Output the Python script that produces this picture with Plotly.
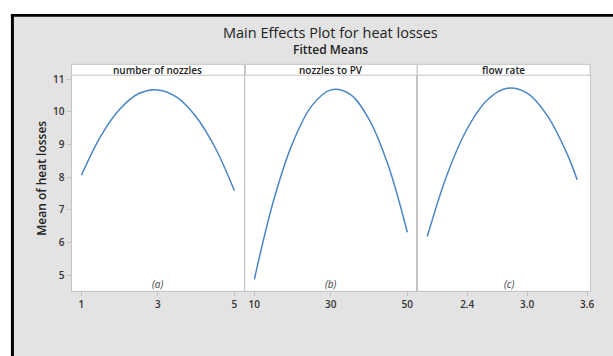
import plotly.graph_objects as go

# ---- data ----
nozzles_x = [1, 1.5, 2, 2.5, 3, 3.5, 4, 4.5, 5]
nozzles_y = [8.06, 9.25, 10.08, 10.56, 10.67, 10.44, 9.84, 8.89, 7.58]

pv_x = [10, 15, 20, 25, 30, 35, 40, 45, 50]
pv_y = [4.87, 7.27, 9.04, 10.18, 10.67, 10.54, 9.77, 8.36, 6.31]

flow_x = [2.0, 2.2, 2.4, 2.6, 2.8, 3.0, 3.2, 3.4, 3.5]
flow_y = [6.18, 8.09, 9.48, 10.36, 10.72, 10.57, 9.89, 8.71, 7.92]

panel_titles = ["number of nozzles", "nozzles to PV", "flow rate"]
panel_tags = ["(a)", "(b)", "(c)"]
tag_x = [3, 30, 2.82]
x_ticks = [[1, 3, 5], [10, 30, 50], [2.4, 3.0, 3.6]]
x_ticktext = [["1", "3", "5"], ["10", "30", "50"], ["2.4", "3.0", "3.6"]]
x_ranges = [[0.74, 5.26], [7.66, 52.6], [1.90, 3.63]]
y_ticks = [5, 6, 7, 8, 9, 10, 11]
y_range = [4.52, 11.12]

W, H = 613, 356


def px(x):
    return x / W


def py(y):
    return 1 - y / H


panel_px = [(72, 246), (247, 420), (420, 594)]
plot_top, plot_bot, strip_top = 72, 290, 61

fig = go.Figure()
series = [(nozzles_x, nozzles_y), (pv_x, pv_y), (flow_x, flow_y)]
line_col = "#4a86c8"
grid_col = "#c4c4c4"
bg_col = "#e3e3e3"
font_fam = "Open Sans, Noto Sans, sans-serif"

for i, (xs, ys) in enumerate(series):
    xa = "x" if i == 0 else f"x{i+1}"
    ya = "y" if i == 0 else f"y{i+1}"
    fig.add_trace(go.Scatter(x=xs, y=ys, mode="lines", xaxis=xa, yaxis=ya,
                             line=dict(color=line_col, width=1.5, shape="spline"),
                             showlegend=False, hoverinfo="skip"))

layout = dict(
    width=W, height=H,
    margin=dict(l=0, r=0, t=0, b=0),
    paper_bgcolor=bg_col,
    plot_bgcolor="white",
    font=dict(family=font_fam, color="#222"),
)

for i in range(3):
    sfx = "" if i == 0 else str(i + 1)
    x0, x1 = panel_px[i]
    layout[f"xaxis{sfx}"] = dict(
        domain=[px(x0), px(x1)], range=x_ranges[i],
        anchor=f"y{sfx}", tickmode="array", tickvals=x_ticks[i], ticktext=x_ticktext[i],
        showgrid=False, zeroline=False, showline=True, mirror=True,
        linecolor=grid_col, linewidth=1, ticks="outside", ticklen=4,
        tickcolor=grid_col, tickfont=dict(size=10, color="#333", weight=600),
    )
    layout[f"yaxis{sfx}"] = dict(
        domain=[py(plot_bot), py(plot_top)], range=y_range,
        anchor=f"x{sfx}", tickmode="array", tickvals=y_ticks,
        showticklabels=(i == 0), ticks="outside" if i == 0 else "", ticklen=4,
        tickcolor=grid_col,
        showgrid=False, zeroline=False, showline=True, mirror=True,
        linecolor=grid_col, linewidth=1, tickfont=dict(size=10, color="#333", weight=600),
    )

shapes = [
    # white page margin (top and left)
    dict(type="rect", xref="paper", yref="paper", x0=px(-20), x1=px(640), y0=py(10), y1=py(-20),
         fillcolor="white", line=dict(width=0)),
    dict(type="rect", xref="paper", yref="paper", x0=px(-20), x1=px(11), y0=py(400), y1=py(-20),
         fillcolor="white", line=dict(width=0)),
    # black frame lines
    dict(type="rect", xref="paper", yref="paper", x0=px(11), x1=px(640), y0=py(13), y1=py(10),
         fillcolor="black", line=dict(width=0)),
    dict(type="rect", xref="paper", yref="paper", x0=px(11), x1=px(14), y0=py(400), y1=py(10),
         fillcolor="black", line=dict(width=0)),
]
annotations = []
for i in range(3):
    x0, x1 = panel_px[i]
    shapes.append(dict(type="rect", xref="paper", yref="paper",
                       x0=px(x0), x1=px(x1), y0=py(plot_top), y1=py(strip_top),
                       fillcolor="white", line=dict(color=grid_col, width=1)))
    annotations.append(dict(text=panel_titles[i], xref="paper", yref="paper",
                            x=px((x0 + x1) / 2), y=py((strip_top + plot_top) / 2),
                            showarrow=False, xanchor="center", yanchor="middle",
                            font=dict(size=10, color="#222", weight=600)))
    xr = "x" if i == 0 else f"x{i+1}"
    annotations.append(dict(text=f"<i>{panel_tags[i]}</i>", xref=xr, yref="paper",
                            x=tag_x[i], y=py(283), showarrow=False,
                            xanchor="center", yanchor="middle",
                            font=dict(size=10, color="#444")))

annotations += [
    dict(text="Main Effects Plot for heat losses", xref="paper", yref="paper",
         x=px(333), y=py(28.5), showarrow=False, xanchor="center", yanchor="middle",
         font=dict(size=14.5, color="#222")),
    dict(text="Fitted Means", xref="paper", yref="paper",
         x=px(333), y=py(46), showarrow=False, xanchor="center", yanchor="middle",
         font=dict(size=12, color="#222", weight=600)),
    dict(text="Mean of heat losses", xref="paper", yref="paper",
         x=px(41), y=py(176), showarrow=False, xanchor="center", yanchor="middle",
         textangle=-90, font=dict(size=12, color="#222", weight=600)),
]

layout["shapes"] = shapes
layout["annotations"] = annotations
fig.update_layout(**layout)
fig.write_html("out.html", config={"displayModeBar": False},
               post_script="document.body.style.margin='0';document.body.style.overflow='hidden';")
